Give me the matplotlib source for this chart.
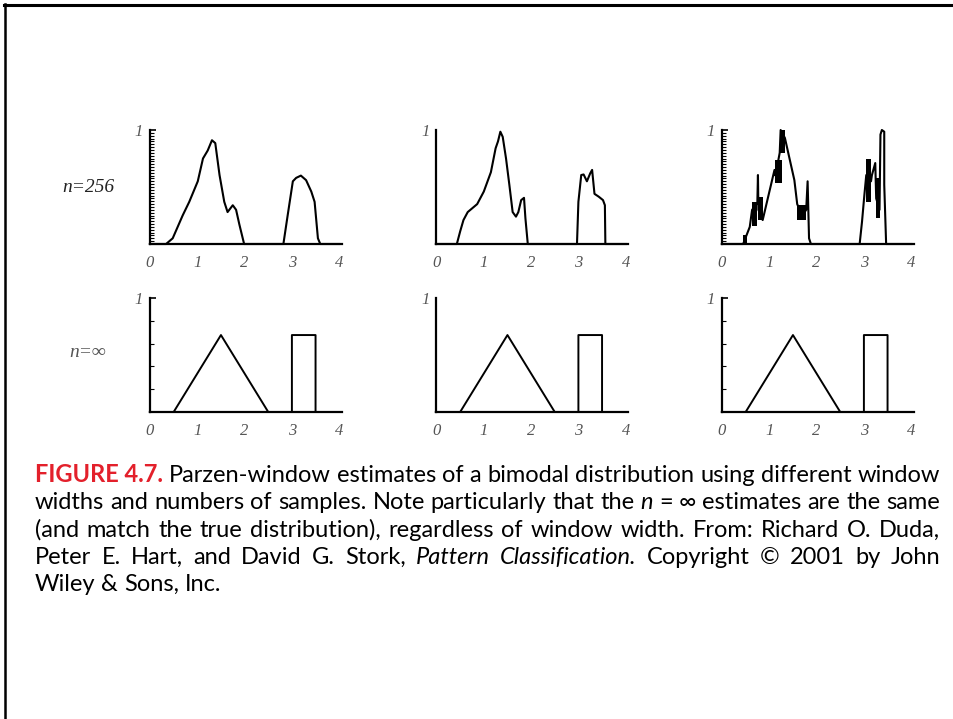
import numpy as np
import matplotlib.pyplot as plt
from matplotlib.lines import Line2D
from matplotlib import font_manager

W, H = 954, 719

x_ticks = [0, 1, 2, 3, 4]
row_labels = ['n=256', 'n=\u221e']

# n=256 estimates, one per window width
est1_x = [0.0, 0.34, 0.48, 0.69, 0.83, 1.01, 1.12, 1.22, 1.31, 1.38, 1.47, 1.57, 1.64, 1.75, 1.82, 1.89, 1.99,
          2.82, 2.91, 3.02, 3.09, 3.19, 3.30, 3.41, 3.48, 3.55, 3.60, 4.0]
est1_y = [0, 0, 0.05, 0.25, 0.37, 0.55, 0.75, 0.82, 0.91, 0.885, 0.605, 0.37, 0.28, 0.34, 0.30, 0.17, 0,
          0, 0.25, 0.55, 0.58, 0.60, 0.56, 0.46, 0.37, 0.05, 0, 0]

est2_x = [0.0, 0.43, 0.50, 0.57, 0.66, 0.86, 1.00, 1.15, 1.25, 1.30, 1.35, 1.40, 1.47, 1.54, 1.61, 1.68, 1.73,
          1.79, 1.85, 1.88, 1.93, 2.97, 3.00, 3.06, 3.11, 3.18, 3.25, 3.29, 3.34, 3.43, 3.52, 3.56, 3.57, 4.0]
est2_y = [0, 0, 0.11, 0.21, 0.28, 0.35, 0.46, 0.63, 0.84, 0.90, 0.985, 0.94, 0.75, 0.52, 0.28, 0.24, 0.28,
          0.385, 0.405, 0.225, 0, 0, 0.37, 0.605, 0.61, 0.55, 0.62, 0.65, 0.44, 0.415, 0.385, 0.34, 0, 0]

est3_x = [0.0, 0.447, 0.587, 0.636, 0.70, 0.747, 0.76, 0.77, 0.86, 1.11, 1.13, 1.22, 1.24, 1.33, 1.53, 1.59,
          1.70, 1.78, 1.81, 1.84, 1.88, 2.91, 2.96, 3.01, 3.05, 3.15, 3.17, 3.24, 3.26, 3.33, 3.35, 3.38,
          3.43, 3.43, 3.47, 4.0]
est3_y = [0, 0, 0.15, 0.30, 0.33, 0.36, 0.605, 0.30, 0.21, 0.65, 0.60, 0.80, 1.0, 0.93, 0.56, 0.35,
          0.25, 0.30, 0.55, 0.05, 0, 0, 0.195, 0.43, 0.605, 0.55, 0.605, 0.71, 0.40, 0.30, 0.96, 1.0,
          0.985, 0.52, 0, 0]

# solid black bands where the narrow-window estimate oscillates fast
band3_x0 = [0.45, 0.636, 0.77, 1.13, 1.22, 1.59, 3.05, 3.26]
band3_x1 = [0.52, 0.747, 0.86, 1.26, 1.33, 1.78, 3.15, 3.33]
band3_lo = [0.0, 0.16, 0.21, 0.535, 0.80, 0.21, 0.37, 0.225]
band3_hi = [0.08, 0.37, 0.41, 0.74, 1.0, 0.34, 0.75, 0.575]

# n=inf: true density (triangle + box)
true_x = [0.0, 0.5, 1.5, 2.5, 3.0, 3.0, 3.5, 3.5, 4.0]
true_y = [0, 0, 0.675, 0, 0, 0.675, 0.675, 0, 0]

est_x = [est1_x, est2_x, est3_x]
est_y = [est1_y, est2_y, est3_y]

caption = [
    "FIGURE\u00a04.7. Parzen-window estimates of a bimodal distribution using different window",
    "widths and numbers of samples. Note particularly that the _n = \u221e estimates are the same",
    "(and match the true distribution), regardless of window width. From: Richard O. Duda,",
    "Peter E. Hart, and David G. Stork, _Pattern _Classification. Copyright \u00a9 2001 by John",
    "Wiley & Sons, Inc.",
]

fig = plt.figure(figsize=(W / 100, H / 100), dpi=100)

lefts = [150, 436.5, 722]
bases = [244, 412]
unit = 47.3
ax_h = 114
minor_step = [[0.025, None, 0.025], [0.2, None, 0.2]]
serif = ['Liberation Serif', 'DejaVu Serif']
tick_col = '#555555'

for r in range(2):
    for c in range(3):
        ax = fig.add_axes([lefts[c] / W, 1 - bases[r] / H, 4.05 * unit / W, ax_h / H])
        ax.set_xlim(0, 4.05)
        ax.set_ylim(0, 1)
        ax.spines['top'].set_visible(False)
        ax.spines['right'].set_visible(False)
        ax.spines['left'].set_linewidth(1.6)
        ax.spines['bottom'].set_linewidth(1.6)
        ax.spines['left'].set_bounds(0, 1)
        if r == 0:
            ax.plot(est_x[c], est_y[c], color='black', lw=1.5, clip_on=False)
            if c == 2:
                for i in range(len(band3_x0)):
                    ax.fill_between([band3_x0[i], band3_x1[i]], band3_lo[i], band3_hi[i],
                                    color='black', lw=0, clip_on=False)
        else:
            ax.plot(true_x, true_y, color='black', lw=1.4, clip_on=False)
        ax.set_xticks(x_ticks)
        ax.set_xticklabels([str(v) for v in x_ticks], family=serif, style='italic')
        ax.tick_params(axis='x', direction='inout', length=2, width=1.6, pad=7,
                       labelsize=12, labelcolor=tick_col)
        ax.set_yticks([1])
        ax.set_yticklabels(['1'], family=serif, style='italic')
        step = minor_step[r][c]
        if step is None:
            ax.tick_params(axis='y', length=0, pad=5, labelsize=12, labelcolor=tick_col)
        else:
            ax.set_yticks(np.arange(step, 1, step), minor=True)
            ax.tick_params(axis='y', which='major', direction='in', length=4, width=1.2, pad=5,
                           labelsize=12, labelcolor=tick_col)
            ax.tick_params(axis='y', which='minor', direction='in', length=3, width=0.8)

fig.text(88 / W, 1 - 187 / H, row_labels[0], family=serif, style='italic', fontsize=14,
         ha='center', va='center', color='#222222')
fig.text(88 / W, 1 - 353 / H, row_labels[1], family=serif, style='italic', fontsize=14,
         ha='center', va='center', color='#555555')

# caption, justified word by word
renderer = fig.canvas.get_renderer()
installed = {f.name for f in font_manager.fontManager.ttflist}
if 'Liberation Sans Narrow' in installed:
    cap_family = ['Liberation Sans Narrow', 'DejaVu Sans']
else:
    cap_family = ['Lato', 'DejaVu Sans']
x_left, x_right = 35, 940
base0, line_gap = 482, 27.3

def width_of(t):
    return t.get_window_extent(renderer).width

# pick a size so the first line fills the measure with normal spaces
probe = fig.text(0, 0, caption[0].replace('\u00a0', ' '), family=cap_family, fontsize=15)
cap_size = min(17.0, 15 * (x_right - x_left) / width_of(probe))
probe.remove()

probe1 = fig.text(0, 0, 'a a', family=cap_family, fontsize=cap_size)
probe2 = fig.text(0, 0, 'aa', family=cap_family, fontsize=cap_size)
space_w = width_of(probe1) - width_of(probe2)
probe1.remove()
probe2.remove()

for li, line in enumerate(caption):
    y = 1 - (base0 + li * line_gap) / H
    arts = []
    for wi, word in enumerate(line.split(' ')):
        kw = dict(family=cap_family, fontsize=cap_size, va='baseline', ha='left', color='black')
        if word.startswith('_'):
            word = word[1:]
            kw['style'] = 'italic'
        if li == 0 and wi == 0:
            word = word.replace('\u00a0', ' ')
            kw['color'] = '#e3202b'
            kw['weight'] = 'bold'
        arts.append(fig.text(0, y, word, **kw))
    widths = [width_of(a) for a in arts]
    if li < len(caption) - 1:
        gap = (x_right - x_left - sum(widths)) / (len(arts) - 1)
    else:
        gap = space_w
    x = x_left
    for a, w in zip(arts, widths):
        a.set_x(x / W)
        x += w + gap

# page frame
fig.add_artist(Line2D([4 / W, 1], [1 - 4.5 / H, 1 - 4.5 / H], transform=fig.transFigure,
                      color='black', lw=2.2))
fig.add_artist(Line2D([5 / W, 5 / W], [0, 1 - 4 / H], transform=fig.transFigure,
                      color='black', lw=1.8))

fig.savefig('out.png', dpi=100)
